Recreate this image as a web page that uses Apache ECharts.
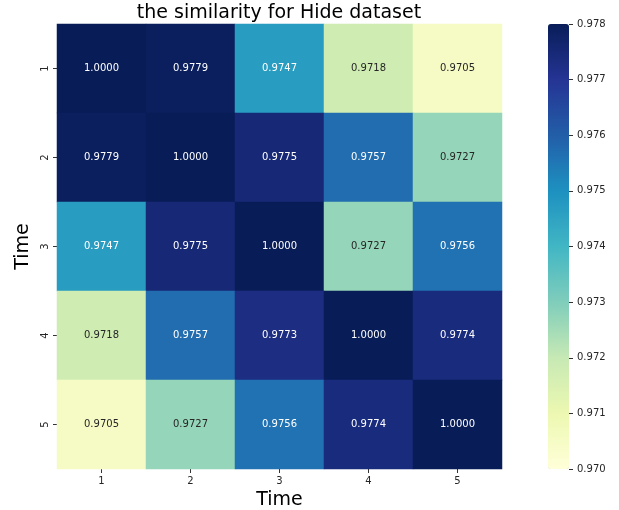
<!DOCTYPE html>
<html>
<head>
<meta charset="utf-8">
<script src="https://cdn.jsdelivr.net/npm/echarts@6/dist/echarts.min.js"></script>
<style>html,body{margin:0;padding:0;background:#fff}#c{width:619px;height:510px}</style>
</head>
<body>
<div id="c"></div>
<script>
const categories = ['1', '2', '3', '4', '5'];
const row1 = [1.0000, 0.9779, 0.9747, 0.9718, 0.9705];
const row2 = [0.9779, 1.0000, 0.9775, 0.9757, 0.9727];
const row3 = [0.9747, 0.9775, 1.0000, 0.9727, 0.9756];
const row4 = [0.9718, 0.9757, 0.9773, 1.0000, 0.9774];
const row5 = [0.9705, 0.9727, 0.9756, 0.9774, 1.0000];
const rows = [row1, row2, row3, row4, row5];
const colorMin = 0.970, colorMax = 0.978, colorStep = 0.001;
const ylgnbu = ['#ffffd9', '#edf8b1', '#c7e9b4', '#7fcdbb', '#41b6c4', '#1d91c0', '#225ea8', '#253494', '#081d58'];

const data = [];
rows.forEach((r, yi) => r.forEach((v, xi) => {
  data.push({
    value: [xi, yi, v],
    label: { color: v < 0.974 ? '#262626' : '#ffffff' }
  });
}));

const font = 'DejaVu Sans';
const chart = echarts.init(document.getElementById('c'));
chart.setOption({
  animation: false,
  textStyle: { fontFamily: font },
  title: {
    text: 'the similarity for Hide dataset',
    left: 279, textAlign: 'center', top: 4, padding: 0,
    textStyle: { fontFamily: font, fontSize: 19, fontWeight: 'normal', color: '#000' }
  },
  grid: [
    { left: 57, top: 24, width: 445, height: 445, outerBoundsMode: 'none', containLabel: false },
    { left: 548, top: 24, width: 21, height: 445, outerBoundsMode: 'none', containLabel: false, z: 10 }
  ],
  xAxis: [
    {
      gridIndex: 0, type: 'category', data: categories,
      name: 'Time', nameLocation: 'middle', nameGap: 21,
      nameTextStyle: { fontFamily: font, fontSize: 19, color: '#000' },
      axisLine: { show: false },
      axisTick: { show: true, alignWithLabel: true, length: 4, lineStyle: { color: '#333' } },
      axisLabel: { fontFamily: font, fontSize: 10, color: '#262626', margin: 7 },
      splitLine: { show: false }
    },
    { gridIndex: 1, type: 'value', show: false }
  ],
  yAxis: [
    {
      gridIndex: 0, type: 'category', data: categories, inverse: true,
      name: 'Time', nameLocation: 'middle', nameGap: 22,
      nameTextStyle: { fontFamily: font, fontSize: 19, color: '#000' },
      axisLine: { show: false },
      axisTick: { show: true, alignWithLabel: true, length: 4, lineStyle: { color: '#333' } },
      axisLabel: { fontFamily: font, fontSize: 10, color: '#262626', rotate: 90, margin: 7 },
      splitLine: { show: false }
    },
    {
      gridIndex: 1, type: 'value', position: 'right',
      min: colorMin, max: colorMax, interval: colorStep,
      z: 20,
      axisLine: { show: false, onZero: false },
      axisTick: { show: true, inside: false, length: 4, lineStyle: { color: '#333', width: 1 } },
      axisLabel: { fontFamily: font, fontSize: 10, color: '#262626', margin: 8, formatter: v => v.toFixed(3) },
      splitLine: { show: false }
    }
  ],
  visualMap: {
    type: 'continuous', seriesIndex: 0,
    min: colorMin, max: colorMax,
    calculable: false, showLabel: false,
    left: 548, top: 24, itemWidth: 21, itemHeight: 445, padding: 0, z: 1,
    inRange: { color: ylgnbu }
  },
  series: [{
    type: 'heatmap', xAxisIndex: 0, yAxisIndex: 0,
    data: data,
    label: {
      show: true, fontFamily: font, fontSize: 10,
      formatter: p => p.value[2].toFixed(4)
    },
    itemStyle: { borderWidth: 0 },
    emphasis: { disabled: true }
  }]
});
</script>
</body>
</html>
